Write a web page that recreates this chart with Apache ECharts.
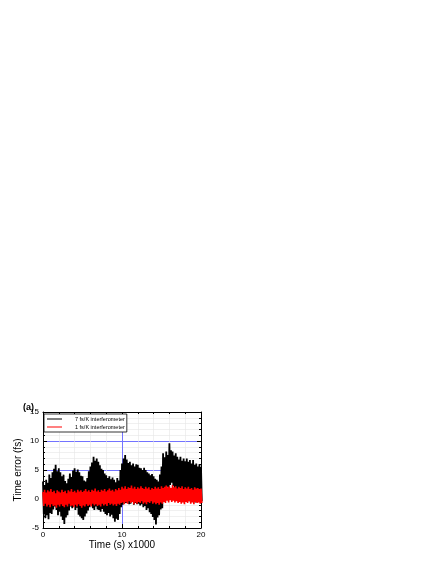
<!DOCTYPE html>
<html>
<head>
<meta charset="utf-8">
<script src="https://cdn.jsdelivr.net/npm/echarts@6/dist/echarts.min.js"></script>
<style>
  html, body { margin: 0; padding: 0; background: #fff; }
  #chart { width: 436px; height: 564px; }
</style>
</head>
<body>
<div id="chart"></div>
<script>
// sampling step of the envelopes below (x in units of 1000 s)
const step = 0.2;

// 7 fs/K interferometer: upper and lower excursions, one pair per step
const blackHi = [
  3.0, 2.4, 3.3, 2.8, 4.2, 3.6, 4.6, 5.2, 5.9, 4.8,
  5.3, 4.6, 3.9, 4.2, 3.1, 2.7, 3.5, 4.4, 3.8, 4.9,
  5.3, 4.7, 5.1, 4.6, 4.0, 3.9, 3.2, 3.0, 3.6, 4.8,
  5.6, 6.3, 7.3, 6.6, 7.0, 6.4, 5.8, 5.2, 5.0, 4.4,
  4.1, 3.6, 3.9, 3.4, 3.7, 3.3, 2.9, 3.6, 3.2, 5.0,
  6.1, 7.0, 7.6, 6.8, 6.2, 6.4, 5.8, 6.1, 5.6, 6.0,
  5.9, 5.4, 5.3, 5.0, 5.4, 5.0, 4.6, 4.4, 4.1, 4.3,
  3.9, 3.5, 3.3, 3.0, 4.2, 5.6, 7.9, 7.2, 8.2, 7.6,
  9.6, 8.4, 8.2, 7.5, 7.9, 7.3, 6.8, 7.3, 6.6, 7.0,
  6.5, 7.0, 6.4, 6.7, 6.1, 6.7, 5.9, 6.1, 5.6, 6.0,
  5.5
];
const blackLo = [
  -2.6, -3.3, -2.8, -3.5, -2.4, -2.6, -1.8, -1.3, -1.9, -2.8,
  -2.2, -3.0, -3.6, -4.3, -3.2, -2.8, -2.0, -1.3, -1.6, -1.1,
  -1.9, -1.5, -2.7, -3.0, -3.3, -3.6, -3.0, -2.5, -2.0, -1.4,
  -1.0, -1.6, -1.9, -1.3, -1.8, -1.9, -2.2, -1.7, -2.2, -2.6,
  -2.8, -2.4, -3.0, -2.7, -3.3, -3.9, -3.4, -3.6, -2.6, -1.4,
  -1.0, -0.6, -0.7, -0.4, -0.9, -0.8, -0.5, -1.0, -0.7, -0.9,
  -0.8, -1.1, -0.9, -1.4, -1.2, -1.9, -1.6, -2.3, -2.6, -3.1,
  -3.6, -4.4, -3.2, -2.8, -1.8, -1.6, 0.3, 1.5, 2.1, 1.8,
  2.4, 2.8, 2.2, 1.8, 1.5, 1.3, 0.9, 0.6, 0.4, 0.1,
  -0.2, 0.1, -0.4, -0.2, -0.5, -0.3, -0.6, -0.2, -0.5, -0.1,
  -0.4
];

// 1 fs/K interferometer
const redHi = [
  1.2, 1.6, 1.1, 1.5, 1.3, 1.7, 1.2, 1.4, 1.0, 1.5,
  1.3, 1.1, 1.6, 1.2, 1.4, 1.0, 1.5, 1.3, 1.7, 1.2,
  1.4, 1.1, 1.6, 1.3, 1.5, 1.2, 1.4, 1.7, 1.3, 1.5,
  1.2, 1.6, 1.4, 1.8, 1.3, 1.5, 1.2, 1.6, 1.4, 1.7,
  1.3, 1.5, 1.8, 1.4, 1.6, 1.3, 1.7, 1.5, 1.9, 1.6,
  2.1, 1.8, 2.2, 1.7, 2.0, 1.9, 2.3, 1.8, 2.1, 1.7,
  2.0, 1.8, 2.2, 1.9, 1.7, 2.1, 1.8, 2.0, 1.6, 1.9,
  1.7, 2.1, 1.8, 2.0, 1.7, 2.2, 1.9, 2.1, 2.3, 2.0,
  2.2, 1.9, 2.4, 2.0, 2.2, 1.8, 2.1, 1.9, 2.2, 1.7,
  2.0, 1.8, 2.1, 1.7, 1.9, 1.6, 2.0, 1.8, 1.9, 1.7,
  1.8
];
const redLo = [
  -1.2, -0.8, -1.3, -1.0, -1.4, -0.9, -1.2, -1.1, -1.5, -1.0,
  -1.3, -0.9, -1.2, -1.4, -1.0, -1.3, -0.8, -1.2, -1.1, -1.4,
  -1.0, -1.3, -0.9, -1.2, -1.5, -1.1, -1.3, -0.9, -1.2, -1.0,
  -1.3, -0.8, -1.1, -0.9, -1.2, -1.0, -1.3, -0.8, -1.1, -0.9,
  -1.2, -0.7, -1.0, -0.8, -1.1, -0.9, -1.2, -0.8, -1.0, -0.7,
  -0.6, -0.9, -0.5, -0.8, -0.4, -0.7, -0.5, -0.9, -0.6, -0.8,
  -0.5, -0.7, -0.4, -0.8, -0.6, -0.9, -0.5, -0.7, -0.4, -0.8,
  -0.6, -0.9, -0.7, -1.0, -0.6, -0.8, -0.5, -0.7, -0.3, -0.6,
  -0.2, -0.5, -0.3, -0.6, -0.4, -0.7, -0.5, -0.8, -0.6, -0.9,
  -0.5, -0.7, -0.4, -0.8, -0.6, -0.9, -0.5, -0.7, -0.6, -0.8,
  -0.7
];

const seriesNames = ['7 fs/K interferometer', '1 fs/K interferometer'];
const xTicks = [0, 10, 20];
const yTicks = [-5, 0, 5, 10, 15];

// zigzag between the upper and lower excursion of each step
function trace(hi, lo) {
  const pts = [];
  for (let i = 0; i < hi.length; i++) {
    pts.push([i * step, hi[i]]);
    pts.push([i * step + step / 2, lo[i]]);
  }
  return pts;
}

const chart = echarts.init(document.getElementById('chart'), null, {renderer: 'canvas'});

const font = 'Liberation Sans, Arial, sans-serif';
const blue = '#7373ff';

function frameAxis(extra) {
  return Object.assign({
    axisLine: {show: true, onZero: false, lineStyle: {color: '#000', width: 1}},
    axisTick: {show: true, inside: true, length: 4, lineStyle: {color: '#000'}},
    minorTick: {show: true, splitNumber: 5, length: 2, lineStyle: {color: '#000'}},
    axisLabel: {show: false},
    splitLine: {show: false},
    minorSplitLine: {show: false}
  }, extra);
}

const option = {
  animation: false,
  title: {
    text: '(a)', left: 18, top: 398,
    textStyle: {fontFamily: font, fontSize: 9, fontWeight: 'bold', color: '#000'}
  },
  legend: {
    data: seriesNames.map(n => ({name: n, icon: 'rect'})),
    orient: 'vertical',
    left: 44, top: 414,
    padding: [2, 2, 2, 3],
    itemGap: 2,
    itemWidth: 15,
    itemHeight: 1,
    borderColor: '#000',
    borderWidth: 0.8,
    backgroundColor: '#fff',
    textStyle: {fontFamily: font, fontSize: 5.5, color: '#000', padding: [0, 0, 0, 8]}
  },
  grid: {left: 43, top: 412, width: 158, height: 116, containLabel: false},
  xAxis: [
    frameAxis({
      type: 'value', min: 0, max: 20, interval: 10,
      name: 'Time (s) x1000', nameLocation: 'middle', nameGap: 10,
      nameTextStyle: {fontFamily: font, fontSize: 10, color: '#000'},
      axisLabel: {
        show: true, fontFamily: font, fontSize: 8, color: '#000', margin: 3,
        formatter: v => (xTicks.indexOf(v) >= 0 ? String(v) : '')
      },
      splitLine: {show: true, lineStyle: {color: blue, width: 1}},
      minorSplitLine: {show: true, lineStyle: {color: '#e6e6e6', width: 0.6}}
    }),
    frameAxis({type: 'value', min: 0, max: 20, interval: 10, position: 'top'})
  ],
  yAxis: [
    frameAxis({
      type: 'value', min: -5, max: 15, interval: 5,
      name: 'Time error (fs)', nameLocation: 'middle', nameGap: 20,
      nameTextStyle: {fontFamily: font, fontSize: 10, color: '#000'},
      axisLabel: {
        show: true, fontFamily: font, fontSize: 8, color: '#000', margin: 4,
        formatter: v => (yTicks.indexOf(v) >= 0 ? String(v) : '')
      },
      splitLine: {show: true, lineStyle: {color: blue, width: 1}},
      minorSplitLine: {show: true, lineStyle: {color: '#e6e6e6', width: 0.6}}
    }),
    frameAxis({type: 'value', min: -5, max: 15, interval: 5, position: 'right'})
  ],
  series: [
    {
      name: seriesNames[0], type: 'line', symbol: 'none',
      data: trace(blackHi, blackLo),
      lineStyle: {color: '#000', width: 1.8},
      itemStyle: {color: '#000'},
      clip: true
    },
    {
      name: seriesNames[1], type: 'line', symbol: 'none',
      data: trace(redHi, redLo),
      lineStyle: {color: '#ff0000', width: 1.6},
      itemStyle: {color: '#ff0000'},
      clip: true
    }
  ]
};

chart.setOption(option);
</script>
</body>
</html>
